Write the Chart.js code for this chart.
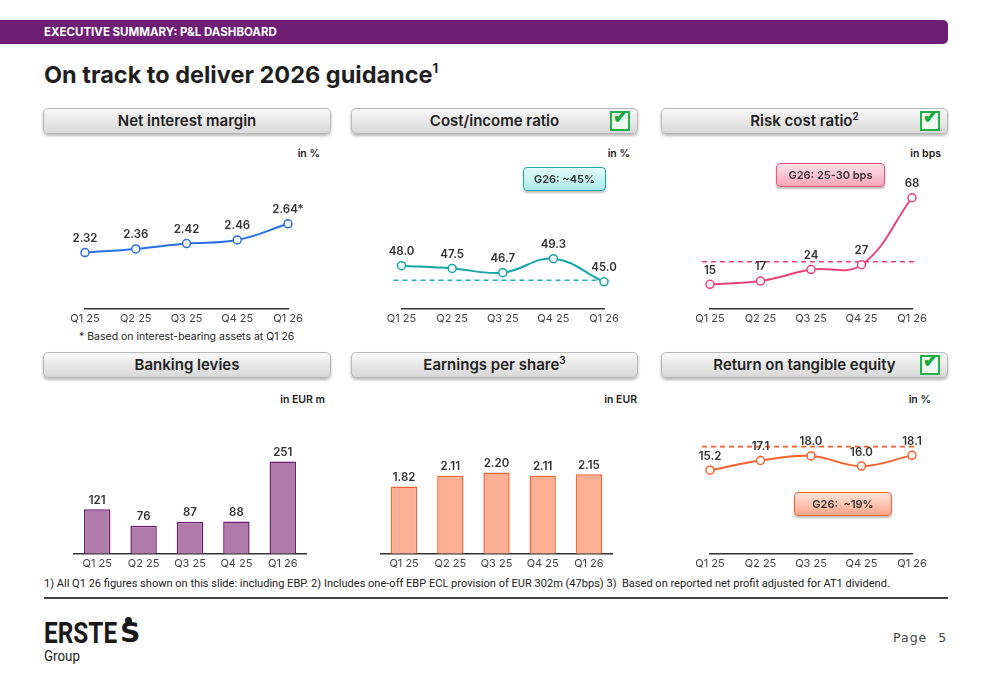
<!DOCTYPE html>
<html>
<head>
<meta charset="utf-8">
<script src="https://cdn.jsdelivr.net/npm/chart.js@4.4.1/dist/chart.umd.min.js"></script>
<style>
  body { margin:0; width:1000px; height:685px; background:#fff; font-family:Inter, "Noto Sans", sans-serif; position:relative; overflow:hidden; }
  .abs { position:absolute; }
  .topbar { left:0; top:20px; width:948px; height:24px; background:#6e1e74; border-radius:0 5px 5px 0; }
  .topbar span { position:absolute; left:44px; top:0; line-height:24px; color:#fff; font-weight:700; font-size:11.5px; }
  .title { left:44px; top:61px; font-weight:700; font-size:23.5px; color:#1f1f1f; line-height:28px; }
  .title sup { font-size:13px; vertical-align:baseline; position:relative; top:-10px; line-height:0; }
  .hdr { position:absolute; height:26px; box-sizing:border-box; border:1px solid #b8b8b8; border-radius:5px;
         background:linear-gradient(#f8f8f8,#d8d8d8); box-shadow:0 2px 3px rgba(0,0,0,.28);
         font-weight:600; font-size:15px; color:#222; text-align:center; line-height:24px; }
  .hdr sup { font-size:10px; vertical-align:baseline; position:relative; top:-6px; line-height:0; }
  .chk { position:absolute; right:7px; top:2px; width:16px; height:16px; border:2px solid #22b04a; background:#eef8ef; }
  .chk span { position:absolute; left:1px; top:-6px; font-size:18px; line-height:20px; color:#18a83f; font-weight:700; }
  .unit { position:absolute; font-weight:600; font-size:10.5px; color:#222; text-align:right; }
  .cv { position:absolute; }
  .guide { position:absolute; box-sizing:border-box; border-radius:4px; font-weight:600; font-size:11px; color:#333;
           text-align:center; box-shadow:0 2px 2px rgba(0,0,0,.25); }
  .note { font-size:10.5px; color:#222; }
  .foot { left:44px; top:576px; font-family:Roboto, sans-serif; font-size:11.5px; color:#222; white-space:nowrap;
          transform:scaleX(0.96); transform-origin:left top; }
  .rule { left:44px; top:597px; width:904px; height:2px; background:#444; }
  .logo { left:44px; top:618px; color:#1a1a1a; }
  .page { left:893px; top:630px; font-family:"DejaVu Sans", sans-serif; font-size:12.5px; color:#444; letter-spacing:1px; word-spacing:6px; }
</style>
</head>
<body>

<div class="abs topbar"><span>EXECUTIVE SUMMARY: P&amp;L DASHBOARD</span></div>
<div class="abs title">On track to deliver 2026 guidance<sup>1</sup></div>

<!-- headers row 1 -->
<div class="hdr" style="left:43px;top:108px;width:288px;">Net interest margin</div>
<div class="hdr" style="left:351px;top:108px;width:287px;">Cost/income ratio<div class="chk"><span>✔</span></div></div>
<div class="hdr" style="left:661px;top:108px;width:287px;">Risk cost ratio<sup>2</sup><div class="chk"><span>✔</span></div></div>
<!-- headers row 2 -->
<div class="hdr" style="left:43px;top:352px;width:288px;">Banking levies</div>
<div class="hdr" style="left:351px;top:352px;width:287px;">Earnings per share<sup>3</sup></div>
<div class="hdr" style="left:661px;top:352px;width:287px;">Return on tangible equity<div class="chk"><span>✔</span></div></div>

<div class="unit" style="left:260px;top:147px;width:60px;">in %</div>
<div class="unit" style="left:570px;top:147px;width:60px;">in %</div>
<div class="unit" style="left:880px;top:147px;width:61px;">in bps</div>
<div class="unit" style="left:240px;top:393px;width:85px;">in EUR m</div>
<div class="unit" style="left:560px;top:393px;width:77px;">in EUR</div>
<div class="unit" style="left:870px;top:393px;width:61px;">in %</div>

<div class="cv" style="left:43px;top:140px;width:288px;height:189px;"><canvas id="c1"></canvas></div>
<div class="cv" style="left:351px;top:140px;width:287px;height:189px;"><canvas id="c2"></canvas></div>
<div class="cv" style="left:661px;top:140px;width:287px;height:189px;"><canvas id="c3"></canvas></div>
<div class="cv" style="left:43px;top:390px;width:288px;height:184px;"><canvas id="c4"></canvas></div>
<div class="cv" style="left:351px;top:390px;width:287px;height:184px;"><canvas id="c5"></canvas></div>
<div class="cv" style="left:661px;top:390px;width:287px;height:184px;"><canvas id="c6"></canvas></div>

<div class="guide" style="left:523px;top:167px;width:83px;height:24px;line-height:22px;border:1.5px solid #1ba7a7;background:linear-gradient(#e3fafa,#aeeaea);">G26: ~45%</div>
<div class="guide" style="left:776px;top:163px;width:109px;height:24px;line-height:22px;border:1.5px solid #e5557e;background:linear-gradient(#fde0e7,#f8a7bb);">G26: 25-30 bps</div>
<div class="guide" style="left:794px;top:492px;width:98px;height:24px;line-height:22px;border:1.5px solid #f0673a;background:linear-gradient(#fee4da,#f9a58a);">G26:&nbsp; ~19%</div>

<div class="abs note" style="left:79px;top:330px;">* Based on interest-bearing assets at Q1 26</div>

<div class="abs foot">1) All Q1 26 figures shown on this slide: including EBP. 2) Includes one-off EBP ECL provision of EUR 302m (47bps) 3)&nbsp; Based on reported net profit adjusted for AT1 dividend.</div>
<div class="abs rule"></div>

<div class="abs logo">
  <div style="position:absolute;left:0;top:0;font-family:'Roboto',sans-serif;font-weight:700;font-size:29px;line-height:30px;white-space:nowrap;transform:scaleX(0.84);transform-origin:left top;">ERSTE</div>
  <div style="position:absolute;left:76px;top:0;font-family:'DejaVu Sans',sans-serif;font-weight:700;font-size:27px;line-height:30px;transform:scaleX(1.05);transform-origin:left top;">S</div>
  <div style="position:absolute;left:81px;top:-1px;width:7px;height:7px;border-radius:50%;background:#1a1a1a;"></div>
  <div style="position:absolute;left:0;top:30px;font-family:'Roboto',sans-serif;font-size:15.5px;line-height:16px;transform:scaleX(0.86);transform-origin:left top;">Group</div>
</div>
<div class="abs page">Page 5</div>

<script>
/* ---------- data ---------- */
const quarters = ["Q1 25", "Q2 25", "Q3 25", "Q4 25", "Q1 26"];

const nimValues = [2.32, 2.36, 2.42, 2.46, 2.64];
const nimLabels = ["2.32", "2.36", "2.42", "2.46", "2.64*"];

const cirValues = [48.0, 47.5, 46.7, 49.3, 45.0];
const cirGuide = 45.3;

const riskValues = [15, 17, 24, 27, 68];
const riskGuide = 28.8;

const levyValues = [121, 76, 87, 88, 251];

const epsValues = [1.82, 2.11, 2.20, 2.11, 2.15];

const roteValues = [15.2, 17.1, 18.0, 16.0, 18.1];
const roteGuide = 19.8;

/* ---------- plugins ---------- */
const valueLabels = {
    id: "valueLabels",
    afterDatasetsDraw(chart, args, opts) {
        if (!opts.texts) return;
        const ctx = chart.ctx;
        const meta = chart.getDatasetMeta(0);
        ctx.save();
        ctx.font = "600 11.5px Inter";
        ctx.fillStyle = "#333";
        ctx.textAlign = "center";
        ctx.textBaseline = "middle";
        meta.data.forEach((el, i) => {
            ctx.fillText(opts.texts[i], el.x, el.y - opts.gap);
        });
        ctx.restore();
    }
};

const guideLine = {
    id: "guideLine",
    beforeDatasetsDraw(chart, args, opts) {
        if (opts.value == null) return;
        const ctx = chart.ctx;
        const y = chart.scales.y.getPixelForValue(opts.value);
        const { left, right } = chart.chartArea;
        ctx.save();
        ctx.setLineDash([5, 4]);
        ctx.strokeStyle = opts.color;
        ctx.lineWidth = 1.6;
        ctx.beginPath();
        ctx.moveTo(left - 8, y);
        ctx.lineTo(right + 6, y);
        ctx.stroke();
        ctx.restore();
    }
};

Chart.register(valueLabels, guideLine);
Chart.defaults.font.family = "Inter";
Chart.defaults.animation = false;

/* ---------- helpers ---------- */
function xAxis(offset) {
    return {
        offset: offset,
        grid: { display: false, drawTicks: false },
        border: { display: true, color: "#333", width: 1.5 },
        ticks: { color: "#444", font: { size: 11 }, padding: 3, maxRotation: 0, autoSkip: false }
    };
}

function lineChart(id, values, texts, color, min, max, pad, guide) {
    new Chart(document.getElementById(id), {
        type: "line",
        data: {
            labels: quarters,
            datasets: [{
                data: values,
                borderColor: color,
                borderWidth: 2,
                tension: 0.4,
                pointRadius: 4,
                pointBorderWidth: 1.5,
                pointBackgroundColor: "#fff",
                pointBorderColor: color
            }]
        },
        options: {
            responsive: true,
            maintainAspectRatio: false,
            layout: { padding: pad },
            scales: {
                x: xAxis(false),
                y: { display: false, min: min, max: max }
            },
            plugins: {
                legend: { display: false },
                tooltip: { enabled: false },
                valueLabels: { texts: texts, gap: 14 },
                guideLine: guide || {}
            }
        }
    });
}

function barChart(id, values, texts, fill, border, max, pad) {
    new Chart(document.getElementById(id), {
        type: "bar",
        data: {
            labels: quarters,
            datasets: [{
                data: values,
                backgroundColor: fill,
                borderColor: border,
                borderWidth: 1.5,
                categoryPercentage: 1,
                barPercentage: 0.57
            }]
        },
        options: {
            responsive: true,
            maintainAspectRatio: false,
            layout: { padding: pad },
            scales: {
                x: xAxis(true),
                y: { display: false, min: 0, max: max }
            },
            plugins: {
                legend: { display: false },
                tooltip: { enabled: false },
                valueLabels: { texts: texts, gap: 9 }
            }
        }
    });
}

/* ---------- charts ---------- */
lineChart("c1", nimValues, nimLabels, "#2a6fe3", 1.695, 3.51,
    { left: 42, right: 43, top: 0, bottom: 1 });

lineChart("c2", cirValues, cirValues.map(v => v.toFixed(1)), "#17a6a6", 40, 70.3,
    { left: 50.5, right: 34, top: 0, bottom: 1 },
    { value: cirGuide, color: "#1fb0b0" });

lineChart("c3", riskValues, riskValues.map(String), "#ee4377", 0, 100,
    { left: 49, right: 36, top: 0, bottom: 1 },
    { value: riskGuide, color: "#ee4377" });

barChart("c4", levyValues, levyValues.map(String), "#b07aab", "#6d1b70", 445.5,
    { left: 31, right: 25, top: 0, bottom: 1 });

barChart("c5", epsValues, epsValues.map(v => v.toFixed(2)), "#fdb093", "#f26538", 4.43,
    { left: 30, right: 26, top: 0, bottom: 1 });

lineChart("c6", roteValues, roteValues.map(v => v.toFixed(1)), "#f4622e", -1.12, 29.79,
    { left: 49, right: 36, top: 0, bottom: 1 },
    { value: roteGuide, color: "#f4622e" });
</script>
</body>
</html>
